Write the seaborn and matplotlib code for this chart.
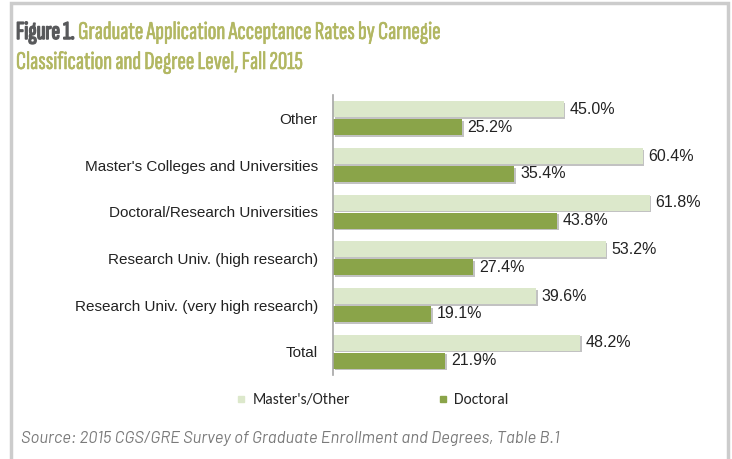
import numpy as np
import pandas as pd
import matplotlib
matplotlib.use("Agg")
import matplotlib.pyplot as plt
import matplotlib.patheffects as pe
from matplotlib import font_manager
from matplotlib.lines import Line2D
from matplotlib.patches import Rectangle
import seaborn as sns

categories = ["Other", "Master's Colleges and Universities", "Doctoral/Research Universities",
              "Research Univ. (high research)", "Research Univ. (very high research)", "Total"]
masters_other = [45.0, 60.4, 61.8, 53.2, 39.6, 48.2]
doctoral = [25.2, 35.4, 43.8, 27.4, 19.1, 21.9]
series = ["Master's/Other", "Doctoral"]
colors = ["#dce8cb", "#8aa449"]

df = pd.DataFrame({
    "category": categories * 2,
    "rate": masters_other + doctoral,
    "level": [series[0]] * len(categories) + [series[1]] * len(categories),
})

sns.set_theme(style="white")
installed = {f.name for f in font_manager.fontManager.ttflist}


def pick(*names):
    for n in names:
        if n in installed:
            return n
    return "DejaVu Sans"


arial = pick("Liberation Sans", "Arimo", "DejaVu Sans")
narrow = pick("Sofia Sans Extra Condensed", "Fira Sans Extra Condensed", "Barlow Condensed", "Roboto Condensed")
din = pick("Barlow", "Roboto", "Open Sans")
calibri = pick("Carlito", "Open Sans", "Noto Sans")
plt.rcParams["font.family"] = [arial, "DejaVu Sans"]

fig = plt.figure(figsize=(7.32, 4.59), dpi=100)
ax = fig.add_axes([0.455, 0.183, 0.49, 0.61])

sns.barplot(data=df, y="category", x="rate", hue="level", palette=colors, orient="h",
            width=0.76, gap=0.1, ax=ax, legend=False, saturation=1)

shadow = [pe.SimplePatchShadow(offset=(1.2, -1.2), shadow_rgbFace="#9a9a9a", alpha=0.6), pe.Normal()]
for p in ax.patches:
    p.set_path_effects(shadow)
    p.set_edgecolor("none")

for cont in ax.containers:
    ax.bar_label(cont, labels=[f"{v:.1f}%" for v in cont.datavalues], padding=4,
                 fontsize=11.5, color="#222222", family=arial)

ax.set_xlim(0, 70)
ax.set_ylim(len(categories) - 0.5, -0.5)
ax.set_xlabel("")
ax.set_ylabel("")
ax.set_xticks([])
for s in ["top", "right", "bottom"]:
    ax.spines[s].set_visible(False)
ax.spines["left"].set_color("#a6a6a6")
ax.spines["left"].set_linewidth(1.2)
ax.tick_params(axis="y", which="major", length=0, pad=11, labelsize=11, labelcolor="#222222")
ax.set_yticks(np.arange(-0.5, len(categories), 1), minor=True)
ax.tick_params(axis="y", which="minor", length=4, width=1.2, color="#a6a6a6", direction="out")

# legend
handles = [Line2D([], [], marker="s", linestyle="none", markersize=5, markerfacecolor=c,
                  markeredgecolor=c) for c in colors]
fig.legend(handles, series, loc="center", bbox_to_anchor=(0.508, 0.128), ncol=2, frameon=False,
           columnspacing=5.6, handletextpad=0.3, handlelength=0.8,
           prop={"family": calibri, "size": 11.2})

# frame
fig.add_artist(Rectangle((11 / 732, -0.05), (728 - 11) / 732, 1.05 - 3 / 459, transform=fig.transFigure,
                         fill=False, edgecolor="#cccccc", linewidth=2.5))

# title
bold = [pe.withStroke(linewidth=1.1, foreground="#58595b")]
heavy = [pe.withStroke(linewidth=0.4, foreground="#b2b762")]
t1 = fig.text(16 / 732, 1 - 39 / 459, "Figure 1.", fontsize=18.5, color="#58595b",
              family=narrow, va="baseline", path_effects=bold)
ax.annotate(" Graduate Application Acceptance Rates by Carnegie", xy=(1, 0), xycoords=t1,
            va="bottom", ha="left", fontsize=18.5, color="#b2b762", family=narrow,
            annotation_clip=False, path_effects=heavy)
fig.text(16 / 732, 1 - 69 / 459, "Classification and Degree Level, Fall 2015", fontsize=18.5,
         color="#b2b762", family=narrow, va="baseline", path_effects=heavy)

fig.text(21 / 732, 1 - 438 / 459,
         "Source: 2015 CGS/GRE Survey of Graduate Enrollment and Degrees, Table B.1",
         fontsize=12, style="italic", color="#7a7a7a", family=din, va="center")

fig.savefig("out.png", dpi=100)
